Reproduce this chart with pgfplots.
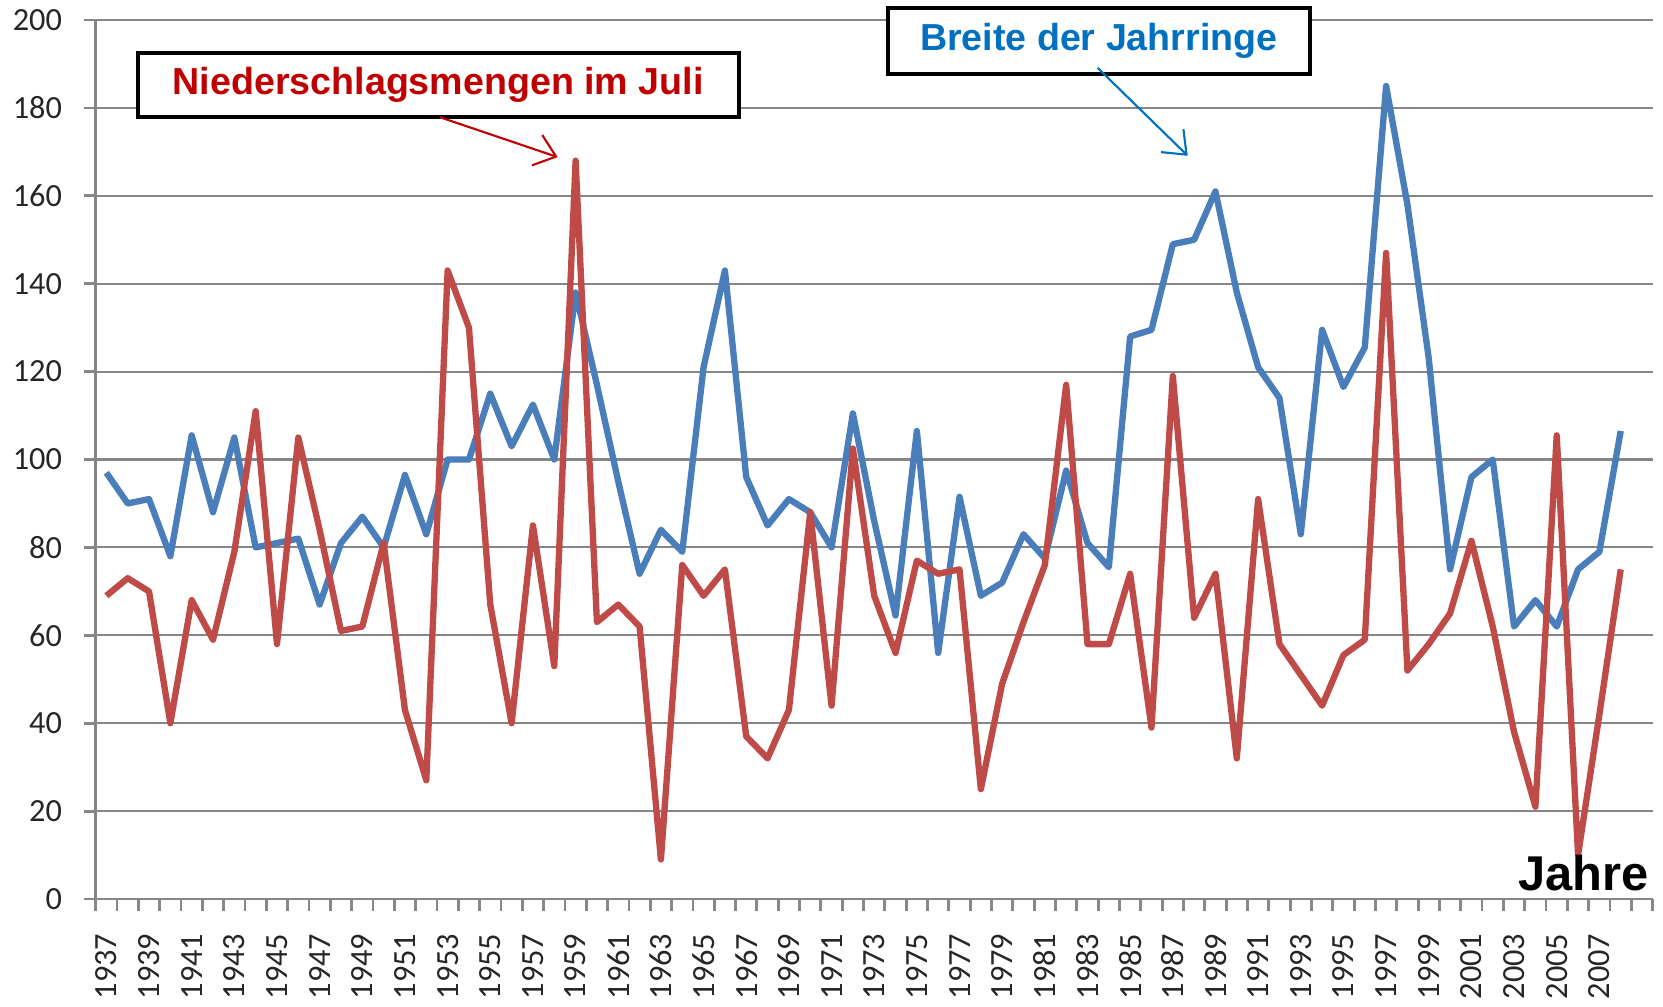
\documentclass[border=0pt]{standalone}
\usepackage{fontspec}
\setmainfont{Carlito}
\newfontfamily\annfont{Liberation Sans}
\usepackage{pgfplots}
\usepackage{pgfplotstable}
\pgfplotsset{compat=1.18}
\usetikzlibrary{arrows.meta}

\definecolor{serblue}{RGB}{74,126,187}
\definecolor{serred}{RGB}{190,75,72}
\definecolor{txtred}{RGB}{192,0,0}
\definecolor{txtblue}{RGB}{0,112,192}
\definecolor{gridgray}{RGB}{134,134,134}

\pgfplotstableread{
year breite nieder
1937 97 69
1938 90 73
1939 91 70
1940 78 40
1941 105.5 68
1942 88 59
1943 105 79
1944 80 111
1945 81 58
1946 82 105
1947 67 84
1948 81 61
1949 87 62
1950 80 81
1951 96.5 43
1952 83 27
1953 100 143
1954 100 130
1955 115 67
1956 103 40
1957 112.5 85
1958 100 53
1959 138 168
1960 117 63
1961 95 67
1962 74 62
1963 84 9
1964 79 76
1965 121 69
1966 143 75
1967 96 37
1968 85 32
1969 91 43
1970 88 88
1971 80 44
1972 110.5 102.5
1973 86 69
1974 64.5 56
1975 106.5 77
1976 56 74
1977 91.5 75
1978 69 25
1979 72 49
1980 83 63
1981 77.5 76
1982 97.5 117
1983 81 58
1984 75.5 58
1985 128 74
1986 129.5 39
1987 149 119
1988 150 64
1989 161 74
1990 138 32
1991 121 91
1992 114 58
1993 83 51
1994 129.5 44
1995 116.5 55.5
1996 125.5 59
1997 185 147
1998 158 52
1999 123 58
2000 75 65
2001 96 81.5
2002 100 62
2003 62 38
2004 68 21
2005 62 105.5
2006 75 10
2007 79 42
2008 106.5 75
}\data

\begin{document}
\begin{tikzpicture}
\begin{axis}[
  scale only axis, width=15.57cm, height=8.79cm,
  at={(0,0)}, anchor=south west,
  xmin=1936.5, xmax=2009.5, ymin=0, ymax=200,
  axis x line*=bottom, axis y line*=left,
  axis line style={gridgray, line width=0.8pt},
  xtick={1937,1939,...,2007},
  minor xtick={1936.5,1937.5,...,2009.5},
  ytick={0,20,...,200},
  tick align=outside,
  major tick length=0.12cm, minor tick length=0.12cm,
  every tick/.style={gridgray, line width=0.8pt},
  every major x tick/.style={draw=none},
  ymajorgrids,
  major grid style={gridgray, line width=0.6pt},
  /pgf/number format/assume math mode=true,
  /pgf/number format/1000 sep={},
  ticklabel style={font=\fontsize{9.2}{10}\selectfont, text=black!85},
  yticklabel style={anchor=east, inner sep=0pt},
  yticklabel shift=0.21cm,
  xticklabel style={rotate=90, anchor=east, inner sep=0pt},
  xticklabel shift=0.22cm,
  clip=false,
]
\addplot[serblue, line width=1.8pt, line join=round] table[x=year, y=breite] {\data};
\addplot[serred, line width=1.8pt, line join=round] table[x=year, y=nieder] {\data};

\node[draw=black, line width=1.1pt, fill=white, minimum width=6.01cm, minimum height=0.64cm, inner sep=0pt,
  text=txtred, font=\annfont\bfseries\fontsize{10.7}{12}\selectfont]
  at (axis cs:1952.56,185.2) {Niederschlagsmengen im Juli};
\draw[txtred, line width=0.6pt, -{Straight Barb[length=2mm, width=3.2mm]}]
  (axis cs:1952.63,177.9) -- (axis cs:1958.16,168.8);

\node[draw=black, line width=1.1pt, fill=white, minimum width=4.22cm, minimum height=0.66cm, inner sep=0pt,
  text=txtblue, font=\annfont\bfseries\fontsize{10.7}{12}\selectfont]
  at (axis cs:1983.53,195.2) {Breite der Jahrringe};
\draw[txtblue, line width=0.6pt, -{Straight Barb[length=2mm, width=3.2mm]}]
  (axis cs:1983.48,189.1) -- (axis cs:1987.7,169.1);

\node[anchor=base east, inner sep=0pt, font=\annfont\bfseries\fontsize{13.9}{16}\selectfont]
  at (axis cs:2009.35,2.05) {Jahre};
\end{axis}
\pgfresetboundingbox
\useasboundingbox (-0.957cm,-1.07cm) rectangle (15.673cm,8.99cm);
\end{tikzpicture}
\end{document}
